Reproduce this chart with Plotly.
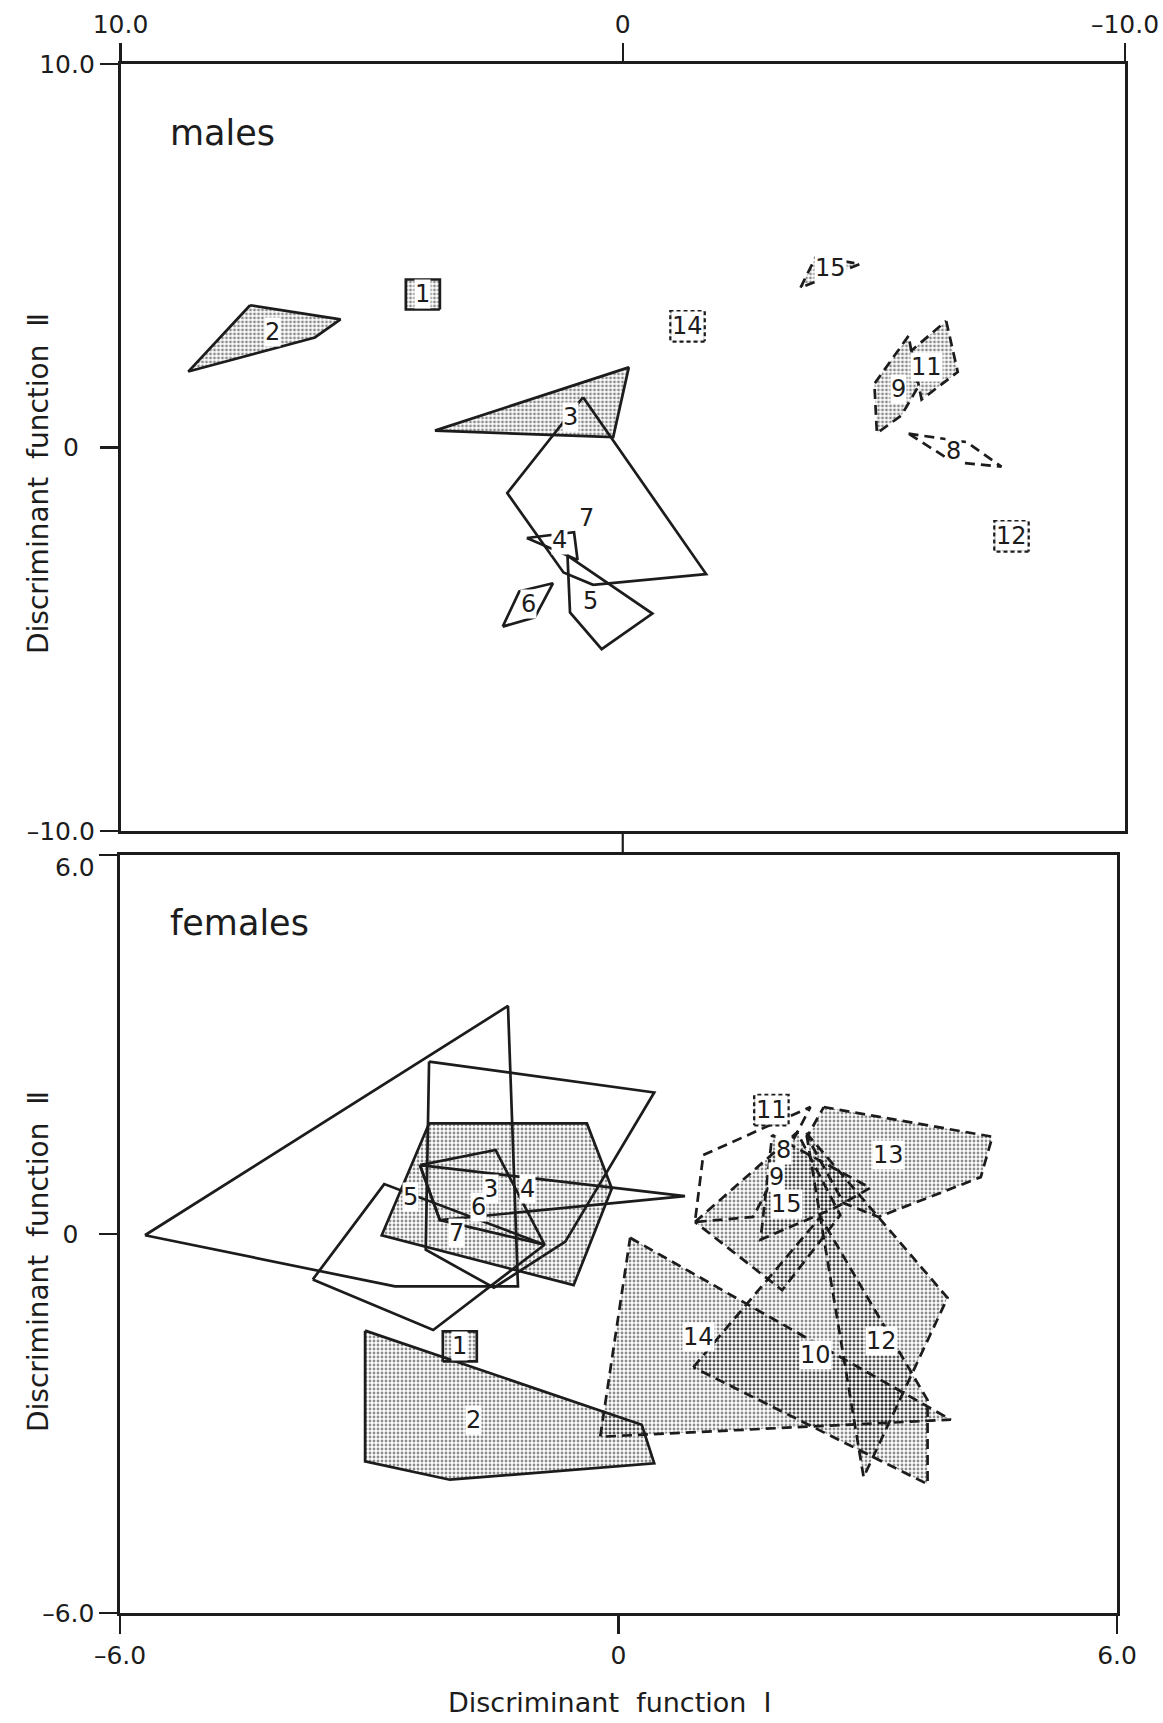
import plotly.graph_objects as go

W, H = 1163, 1723
FONT = "DejaVu Sans"
INK = "#1c1c1c"

# ---------------- data: males (top panel) ----------------
# convex hulls of discriminant scores, (Discriminant function I, Discriminant function II)
m2_x = [7.42, 5.62, 6.13, 8.65];           m2_y = [3.71, 3.34, 2.87, 1.98]
m3_x = [3.74, -0.12, 0.19];                m3_y = [0.44, 2.09, 0.27]
m4_x = [1.91, 0.97, 0.90];                 m4_y = [-2.36, -2.21, -2.93]
m5_x = [1.10, 1.05, 0.42, -0.59];          m5_y = [-2.82, -4.30, -5.26, -4.33]
m6_x = [2.39, 2.06, 1.39, 1.75];           m6_y = [-4.67, -3.75, -3.54, -4.43]
m7_x = [0.79, 2.30, 1.18, 0.59, -1.66];    m7_y = [1.31, -1.19, -3.26, -3.58, -3.30]
m8_x = [-5.69, -6.85, -7.54, -6.58];       m8_y = [0.36, 0.14, -0.50, -0.38]
m9_x = [-5.69, -5.01, -5.06, -5.55, -5.88]; m9_y = [2.91, 1.66, 0.37, 0.84, 1.58]
m11_x = [-6.44, -6.67, -5.95, -5.75];      m11_y = [3.30, 1.97, 1.25, 2.53]
m15_x = [-3.54, -3.85, -4.72];             m15_y = [4.17, 4.99, 4.78]
# single specimens (boxes)
m_single_names = ["1", "14", "12"]
m_single_x = [3.98, -1.29, -7.74]
m_single_y = [3.99, 3.16, -2.32]
# hull labels
m_label_names = ["2", "3", "7", "4", "5", "6", "15", "9", "11", "8"]
m_label_x = [6.98, 1.05, 0.73, 1.25, 0.65, 1.88, -4.13, -5.49, -6.05, -6.58]
m_label_y = [3.01, 0.79, -1.84, -2.41, -4.00, -4.08, 4.67, 1.53, 2.10, -0.10]

# ---------------- data: females (bottom panel) ----------------
f2_x = [-3.05, 0.28, 0.43, -2.03, -3.05];  f2_y = [-1.53, -3.02, -3.63, -3.89, -3.60]
f3_x = [-2.28, -0.38, -0.08, -0.54, -2.85]; f3_y = [1.75, 1.75, 0.72, -0.81, -0.02]
f4_x = [-2.28, 0.43, -0.64, -1.50, -2.32]; f4_y = [2.73, 2.24, -0.12, -0.85, -0.25]
f5_x = [-5.70, -1.33, -1.21, -2.69];       f5_y = [-0.02, 3.61, -0.83, -0.83]
f6_x = [-2.39, -1.48, -0.89, -2.15];       f6_y = [1.09, 1.33, -0.17, 0.22]
f6b_x = [-2.39, 0.80, -2.15];              f6b_y = [1.09, 0.60, 0.22]
f7_x = [-3.68, -2.82, -0.89, -2.23];       f7_y = [-0.72, 0.79, -0.17, -1.52]
f8_x = [1.02, 2.31, 1.62, 0.92];           f8_y = [1.25, 2.01, 0.27, 0.19]
f9_x = [1.85, 3.03, 2.63, 1.71];           f9_y = [1.57, 0.73, 0.43, -0.09]
f10_x = [0.90, 2.43, 3.72, 3.72];          f10_y = [-2.11, 0.27, -2.63, -3.96]
f12_x = [2.26, 3.96, 2.95];                f12_y = [1.60, -1.01, -3.85]
f13_x = [2.47, 4.50, 4.36, 3.13, 2.71, 2.27]; f13_y = [2.01, 1.54, 0.90, 0.27, 0.49, 1.54]
f14_x = [0.14, 4.00, -0.22];               f14_y = [-0.06, -2.94, -3.21]
f15_x = [0.92, 2.15, 2.67, 1.97];          f15_y = [0.19, 1.61, 0.30, -0.89]
f_single_names = ["1", "11"]
f_single_x = [-1.91, 1.84]
f_single_y = [-1.78, 1.96]
f_label_names = ["2", "3", "4", "5", "6", "7", "8", "9", "15", "13", "14", "10", "12"]
f_label_x = [-1.75, -1.54, -1.10, -2.50, -1.69, -1.95, 1.99, 1.90, 2.02, 3.25, 0.96, 2.37, 3.17]
f_label_y = [-2.94, 0.72, 0.72, 0.58, 0.43, 0.01, 1.33, 0.90, 0.48, 1.25, -1.63, -1.92, -1.70]

# tick labels
NB = "\u00a0\u00a0"
top_x_ticks = [10, 0, -10];  top_x_text = ["10.0", "0", "\u201310.0"]
top_y_ticks = [10, 0, -10];  top_y_text = ["10.0", "0" + NB, "\u201310.0"]
bot_x_ticks = [-6, 0, 6];    bot_x_text = ["\u20136.0", "0", "6.0"]
bot_y_ticks = [6, 0, -6];    bot_y_text = ["6.0", "0" + NB, "\u20136.0"]

# ---------------- layout geometry (pixels) ----------------
TOP = dict(x0=120.5, x1=1125, y0=64, y1=831, xr=[10, -10], yr=[-10, 10])
BOT = dict(x0=120, x1=1117, y0=855, y1=1613, xr=[-6, 6], yr=[-6, 6])


def px(x):
    return x / W


def py(y):
    return 1 - y / H


fig = go.Figure()

STIP = dict(shape=".", fgcolor="#1a1a1a", bgcolor="rgba(0,0,0,0)", size=4, solidity=0.4)
SOLID = "solid"
DASH = "10px,6px"


def poly(xs, ys, ax, dash, stip):
    fig.add_trace(go.Scatter(
        x=list(xs) + [xs[0]], y=list(ys) + [ys[0]],
        mode="lines", line=dict(color=INK, width=2.7, dash=dash),
        fill="toself" if stip else "none",
        fillcolor="rgba(0,0,0,0)",
        fillpattern=STIP if stip else None,
        xaxis=ax[0], yaxis=ax[1], hoverinfo="skip", showlegend=False))


def boxes(names, xs, ys, ax, geom, dashes):
    dxp = abs(geom["xr"][1] - geom["xr"][0]) / (geom["x1"] - geom["x0"])
    dyp = abs(geom["yr"][1] - geom["yr"][0]) / (geom["y1"] - geom["y0"])
    hw, hh = 17 * dxp, 15 * dyp
    for n, x, y, d in zip(names, xs, ys, dashes):
        bx = [x - hw, x + hw, x + hw, x - hw]
        by = [y - hh, y - hh, y + hh, y + hh]
        poly(bx, by, ax, d, True)


def labels(names, xs, ys, axn, size=24):
    for n, x, y in zip(names, xs, ys):
        fig.add_annotation(x=x, y=y, xref=axn[0], yref=axn[1], text=n, showarrow=False,
                           xanchor="center", yanchor="middle",
                           font=dict(family=FONT, size=size, color=INK),
                           bgcolor="white", borderpad=0)


A1 = ("x", "y")
A2 = ("x2", "y2")

# males
poly(m2_x, m2_y, A1, SOLID, True)
poly(m3_x, m3_y, A1, SOLID, True)
poly(m7_x, m7_y, A1, SOLID, False)
poly(m4_x, m4_y, A1, SOLID, False)
poly(m5_x, m5_y, A1, SOLID, False)
poly(m6_x, m6_y, A1, SOLID, False)
poly(m9_x, m9_y, A1, DASH, True)
poly(m11_x, m11_y, A1, DASH, True)
poly(m8_x, m8_y, A1, DASH, False)
poly(m15_x, m15_y, A1, DASH, True)
boxes(m_single_names, m_single_x, m_single_y, A1, TOP, [SOLID, "4px,3px", "4px,3px"])

# females
poly(f2_x, f2_y, A2, SOLID, True)
poly(f3_x, f3_y, A2, SOLID, True)
poly(f4_x, f4_y, A2, SOLID, False)
poly(f5_x, f5_y, A2, SOLID, False)
poly(f6_x, f6_y, A2, SOLID, False)
poly(f6b_x, f6b_y, A2, SOLID, False)
poly(f7_x, f7_y, A2, SOLID, False)
poly(f13_x, f13_y, A2, DASH, True)
poly(f9_x, f9_y, A2, DASH, True)
poly(f15_x, f15_y, A2, DASH, True)
poly(f8_x, f8_y, A2, DASH, False)
poly(f10_x, f10_y, A2, DASH, True)
poly(f12_x, f12_y, A2, DASH, True)
poly(f14_x, f14_y, A2, DASH, True)
boxes(f_single_names, f_single_x, f_single_y, A2, BOT, [SOLID, "4px,3px"])

labels(m_label_names + m_single_names, m_label_x + m_single_x, m_label_y + m_single_y, A1)
labels(f_label_names + f_single_names, f_label_x + f_single_x, f_label_y + f_single_y, A2)

TICKFONT = dict(family=FONT, size=25, color=INK)
common = dict(showgrid=False, zeroline=False, showline=True, linecolor=INK, linewidth=2.6,
              mirror=True, ticks="outside", ticklen=18, tickwidth=2.2, tickcolor=INK,
              tickfont=TICKFONT, automargin=False, fixedrange=True, ticklabeloverflow="allow")

# the top label of the lower panel sits just below its tick (as in the original)
bot_y_text_axis = ["" if v == bot_y_ticks[0] else t for v, t in zip(bot_y_ticks, bot_y_text)]

fig.update_layout(
    width=W, height=H, margin=dict(l=0, r=0, t=0, b=0),
    paper_bgcolor="white", plot_bgcolor="white", showlegend=False,
    xaxis=dict(domain=[px(TOP["x0"]), px(TOP["x1"])], range=TOP["xr"], side="top",
               tickvals=top_x_ticks, ticktext=top_x_text, anchor="y", **common),
    yaxis=dict(domain=[py(TOP["y1"]), py(TOP["y0"])], range=TOP["yr"],
               tickvals=top_y_ticks, ticktext=top_y_text, anchor="x", **common),
    xaxis2=dict(domain=[px(BOT["x0"]), px(BOT["x1"])], range=BOT["xr"], side="bottom",
                tickvals=bot_x_ticks, ticktext=bot_x_text, anchor="y2", **common),
    yaxis2=dict(domain=[py(BOT["y1"]), py(BOT["y0"])], range=BOT["yr"],
                tickvals=bot_y_ticks, ticktext=bot_y_text_axis, anchor="x2", **common),
)
fig.add_annotation(xref="paper", yref="y2", x=px(97), y=bot_y_ticks[0], yshift=-12,
                   text=bot_y_text[0], showarrow=False, xanchor="right", yanchor="middle",
                   font=TICKFONT)

# connecting tick between panels at function I = 0
fig.add_shape(type="line", xref="x", yref="paper", x0=0, x1=0, y0=py(TOP["y1"]), y1=py(BOT["y0"]),
              line=dict(color=INK, width=2.2))

# texts
for txt, yc in [("males", 133), ("females", 923)]:
    fig.add_annotation(xref="paper", yref="paper", x=px(168), y=py(yc), text=txt, showarrow=False,
                       xanchor="left", yanchor="middle", font=dict(family=FONT, size=35, color=INK))
for yc in [484, 1262]:
    fig.add_annotation(xref="paper", yref="paper", x=px(38), y=py(yc), text="Discriminant  function  \u2161",
                       textangle=-90, showarrow=False, xanchor="center", yanchor="middle",
                       font=dict(family=FONT, size=28, color=INK))
fig.add_annotation(xref="paper", yref="paper", x=px(610), y=py(1702), text="Discriminant  function  \u2160",
                   showarrow=False, xanchor="center", yanchor="middle",
                   font=dict(family=FONT, size=27, color=INK))

fig.write_html("out.html", config={"displayModeBar": False, "staticPlot": True},
               post_script="document.body.style.margin='0px';document.body.style.padding='0px';")
